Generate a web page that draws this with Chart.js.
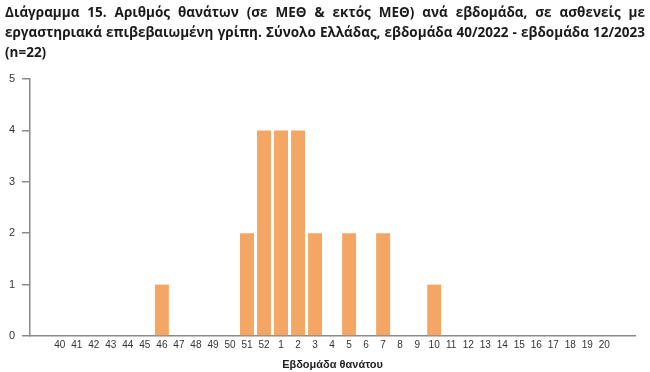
<!DOCTYPE html>
<html>
<head>
<meta charset="utf-8">
<script src="https://cdn.jsdelivr.net/npm/chart.js@4"></script>
<style>
  html, body { margin: 0; padding: 0; background: #fff; }
  #wrap { position: relative; width: 650px; height: 372px; }
  #title { position: absolute; left: 5px; top: 2px; width: 640px; font-family: "Open Sans", sans-serif; font-weight: bold; font-size: 13.5px; line-height: 20px; color: #1a1a1a; }
  #title div { white-space: nowrap; }
  #title .j { text-align: justify; text-align-last: justify; }
  canvas { position: absolute; left: 0; top: 0; }
</style>
</head>
<body>
<div id="wrap">
  <canvas id="c" width="650" height="372"></canvas>
  <div id="title">
    <div class="j">Διάγραμμα 15. Αριθμός θανάτων (σε ΜΕΘ &amp; εκτός ΜΕΘ) ανά εβδομάδα, σε ασθενείς με</div>
    <div class="j">εργαστηριακά επιβεβαιωμένη γρίπη. Σύνολο Ελλάδας, εβδομάδα 40/2022 - εβδομάδα 12/2023</div>
    <div>(n=22)</div>
  </div>
</div>
<script>
const categories = ['40','41','42','43','44','45','46','47','48','49','50','51','52','1','2','3','4','5','6','7','8','9','10','11','12','13','14','15','16','17','18','19','20'];
const deaths = [0,0,0,0,0,0,1,0,0,0,0,2,4,4,4,2,0,2,0,2,0,0,1,0,0,0,0,0,0,0,0,0,0];
const yTicks = [0,1,2,3,4,5];
const xAxisTitle = 'Εβδομάδα θανάτου';

const points = deaths.map((v, i) => ({ x: i, y: v }));

new Chart(document.getElementById('c'), {
  type: 'bar',
  data: {
    datasets: [{
      data: points,
      backgroundColor: '#F4A764',
      borderWidth: 0,
      barPercentage: 0.82,
      categoryPercentage: 1.0
    }]
  },
  options: {
    responsive: false,
    animation: false,
    layout: { padding: { left: 0, right: 15, top: 79, bottom: 0 } },
    plugins: { legend: { display: false }, tooltip: { enabled: false } },
    scales: {
      x: {
        type: 'linear',
        offset: false,
        min: -1.75,
        max: 33.8,
        afterBuildTicks: (s) => { s.ticks = categories.map((_, i) => ({ value: i })); },
        afterFit: (s) => { s.height = 36; },
        grid: { display: true, offset: false, drawOnChartArea: false, drawTicks: false },
        border: { display: true, color: '#8a8a8a', width: 1.5 },
        ticks: {
          autoSkip: false, maxRotation: 0, padding: 3,
          color: '#333', font: { family: 'Liberation Sans, Arial, sans-serif', size: 10 },
          callback: (v) => categories[v] !== undefined ? categories[v] : ''
        },
        title: {
          display: true, text: xAxisTitle, color: '#222',
          font: { family: 'Liberation Sans, Arial, sans-serif', size: 11, weight: 'bold' },
          padding: { top: 4, bottom: 0 }
        }
      },
      y: {
        min: 0, max: 5,
        afterBuildTicks: (s) => { s.ticks = yTicks.map(v => ({ value: v })); },
        afterFit: (s) => { s.width = 30; },
        grid: { display: true, drawOnChartArea: false, drawTicks: true, tickLength: 8, color: '#8a8a8a', lineWidth: 1.5 },
        border: { display: true, color: '#8a8a8a', width: 1.5 },
        ticks: { padding: 7, color: '#333', font: { family: 'Liberation Sans, Arial, sans-serif', size: 11 } }
      }
    }
  }
});
</script>
</body>
</html>
